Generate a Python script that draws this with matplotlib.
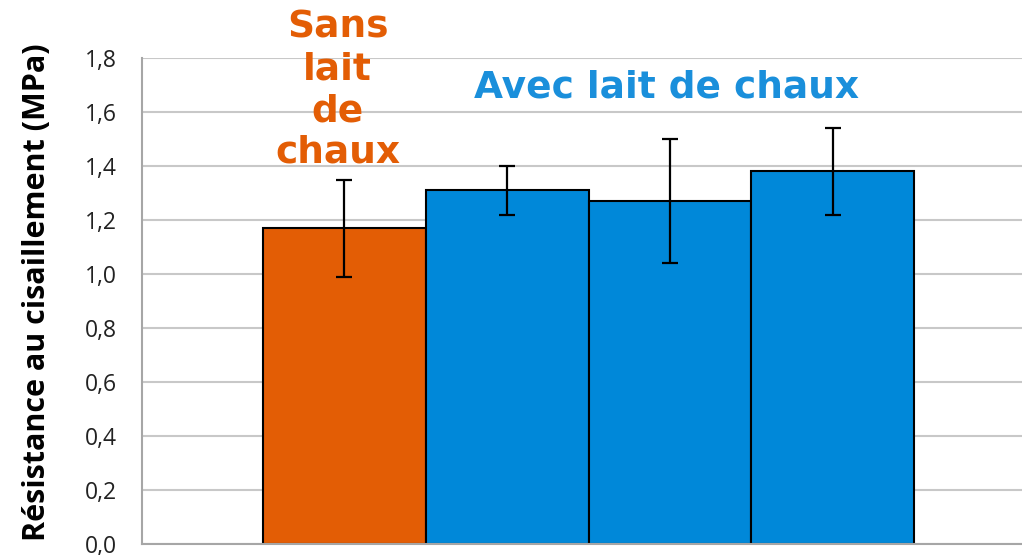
import matplotlib
matplotlib.use("Agg")
import matplotlib.pyplot as plt
from matplotlib.ticker import FuncFormatter

# Data
categories = ["Sans lait de chaux", "Avec 1", "Avec 2", "Avec 3"]
values = [1.17, 1.31, 1.27, 1.38]
err_low = [0.99, 1.22, 1.04, 1.22]
err_high = [1.35, 1.40, 1.50, 1.54]
bar_colors = ["#E35D05", "#0088D9", "#0088D9", "#0088D9"]
y_ticks = [0.0, 0.2, 0.4, 0.6, 0.8, 1.0, 1.2, 1.4, 1.6, 1.8]
y_label = "Résistance au cisaillement (MPa)"
label_sans = "Sans\nlait\nde\nchaux"
label_avec = "Avec lait de chaux"

plt.rcParams['font.family'] = ['Open Sans', 'DejaVu Sans']

fig = plt.figure(figsize=(10.22, 5.55), dpi=100)
ax = fig.add_axes([0.139, 0.0198, 0.861, 0.8757])

x = list(range(len(values)))
yerr = [[v - lo for v, lo in zip(values, err_low)],
        [hi - v for v, hi in zip(values, err_high)]]
ax.bar(x, values, width=1.0, color=bar_colors, edgecolor="black", linewidth=1.5, zorder=2)
ax.errorbar(x, values, yerr=yerr, fmt="none", ecolor="black", elinewidth=1.6,
            capsize=6, capthick=1.6, zorder=3)

ax.set_xlim(-1.24, 4.16)
ax.set_ylim(0, 1.8)
ax.set_yticks(y_ticks)
ax.yaxis.set_major_formatter(FuncFormatter(lambda v, p: f"{v:.1f}".replace(".", ",")))
ax.set_xticks([])
ax.tick_params(axis="y", length=0, labelsize=16.5, pad=18, colors="#222222")
ax.grid(axis="y", color="#C8C8C8", linewidth=1.5, zorder=0)
ax.set_axisbelow(True)
for s in ["top", "right"]:
    ax.spines[s].set_visible(False)
ax.spines["left"].set_color("#A6A6A6")
ax.spines["left"].set_linewidth(1.5)
ax.spines["bottom"].set_color("#A6A6A6")
ax.spines["bottom"].set_linewidth(1.5)

fig.text(0.036, 0.473, y_label, rotation=90, ha="center", va="center",
         fontsize=22, fontweight="bold", color="black")

ax.text(-0.04, 1.68, label_sans, ha="center", va="center", fontsize=27,
        fontweight="bold", color="#E35D05", linespacing=1.2, zorder=4,
        family="DejaVu Sans")
ax.text(1.98, 1.69, label_avec, ha="center", va="center", fontsize=27,
        fontweight="bold", color="#1A8FDB", zorder=4, family="DejaVu Sans")

fig.savefig("out.png", dpi=100)
